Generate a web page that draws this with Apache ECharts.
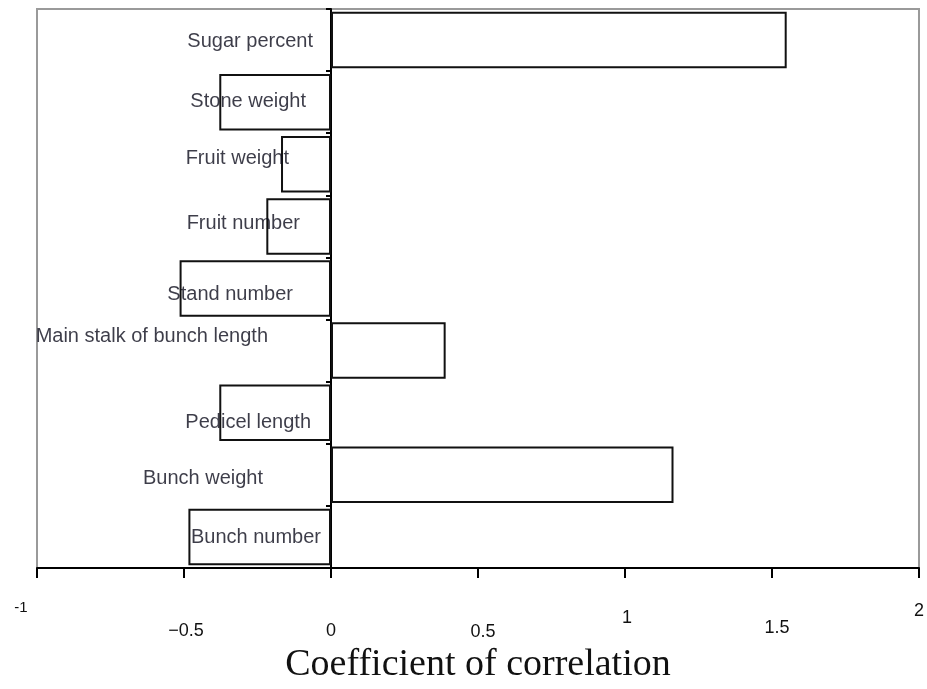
<!DOCTYPE html>
<html>
<head>
<meta charset="utf-8">
<script src="https://cdn.jsdelivr.net/npm/echarts@6/dist/echarts.min.js"></script>
<style>
html,body{margin:0;padding:0;background:#fff;overflow:hidden;}
#chart{width:927px;height:689px;}
</style>
</head>
<body>
<div id="chart"></div>
<script>
// ---- data ----
const categories = ['Sugar percent','Stone weight','Fruit weight','Fruit number','Stand number','Main stalk of bunch length','Pedicel length','Bunch weight','Bunch number'];
const correlations = [1.55, -0.38, -0.17, -0.22, -0.515, 0.39, -0.38, 1.165, -0.485];
const xTickValues = [-1, -0.5, 0, 0.5, 1, 1.5, 2];
const xTickLabels = ['-1', '\u22120.5', '0', '0.5', '1', '1.5', '2'];
const axisTitle = 'Coefficient of correlation';

// ---- layout (label placement, px) ----
const labelDx = [-18, -25, -42, -31, -38, -63, -20, -68, -10];
const labelDy = [1.5, -1, -6, -3, 5.5, -14, 10, 3.5, 0.5];
const tickDx = [-16, 2, 0, 5, 2, 5, 0];
const tickDy = [0, 22, 22, 23, 9, 19, 2];
const tickFont = [15, 18, 18, 18, 18, 18, 18];

const rich = {};
xTickValues.forEach((v, i) => {
  const dx = tickDx[i];
  rich['t' + i] = {
    fontFamily: 'Liberation Sans',
    fontSize: tickFont[i],
    color: '#111',
    padding: [tickDy[i], dx < 0 ? -2 * dx : 0, 0, dx > 0 ? 2 * dx : 0]
  };
});

const chart = echarts.init(document.getElementById('chart'), null, {renderer: 'canvas', width: 927, height: 689});
chart.setOption({
  animation: false,
  backgroundColor: '#ffffff',
  grid: {
    left: 37, right: 2, top: 9, bottom: 116,
    show: true, borderColor: '#9a9a9a', borderWidth: 2, backgroundColor: 'transparent'
  },
  xAxis: {
    type: 'value',
    min: -1, max: 2, interval: 0.5,
    splitLine: {show: false},
    axisLine: {show: true, onZero: false, lineStyle: {color: '#000', width: 2}},
    axisTick: {show: true, length: 10, lineStyle: {color: '#000', width: 2}},
    axisLabel: {
      margin: 32,
      showMinLabel: true, showMaxLabel: true,
      formatter: function (v) {
        const i = xTickValues.findIndex(t => Math.abs(t - v) < 1e-9);
        return i < 0 ? '' : '{t' + i + '|' + xTickLabels[i] + '}';
      },
      rich: rich
    },
    name: axisTitle,
    nameLocation: 'middle',
    nameGap: 78,
    nameTextStyle: {fontFamily: 'Liberation Serif', fontSize: 38, color: '#111'}
  },
  yAxis: {
    type: 'category',
    data: categories,
    inverse: true,
    axisLine: {show: true, onZero: true, lineStyle: {color: '#000', width: 2}},
    axisTick: {show: true, length: 5, lineStyle: {color: '#000', width: 2}},
    axisLabel: {show: false},
    splitLine: {show: false}
  },
  series: [
    {
      type: 'bar',
      data: correlations,
      barCategoryGap: '9%',
      itemStyle: {color: '#ffffff', borderColor: '#111', borderWidth: 2},
      silent: true
    },
    {
      type: 'scatter',
      symbolSize: 0,
      silent: true,
      data: categories.map((c, i) => ({
        value: [0, c],
        label: {offset: [labelDx[i], labelDy[i]]}
      })),
      label: {
        show: true,
        position: 'left',
        distance: 0,
        formatter: p => p.value[1],
        fontFamily: 'Liberation Sans',
        fontSize: 20,
        color: '#0c0c1c'
      },
      z: 10
    }
  ]
});
</script>
</body>
</html>
